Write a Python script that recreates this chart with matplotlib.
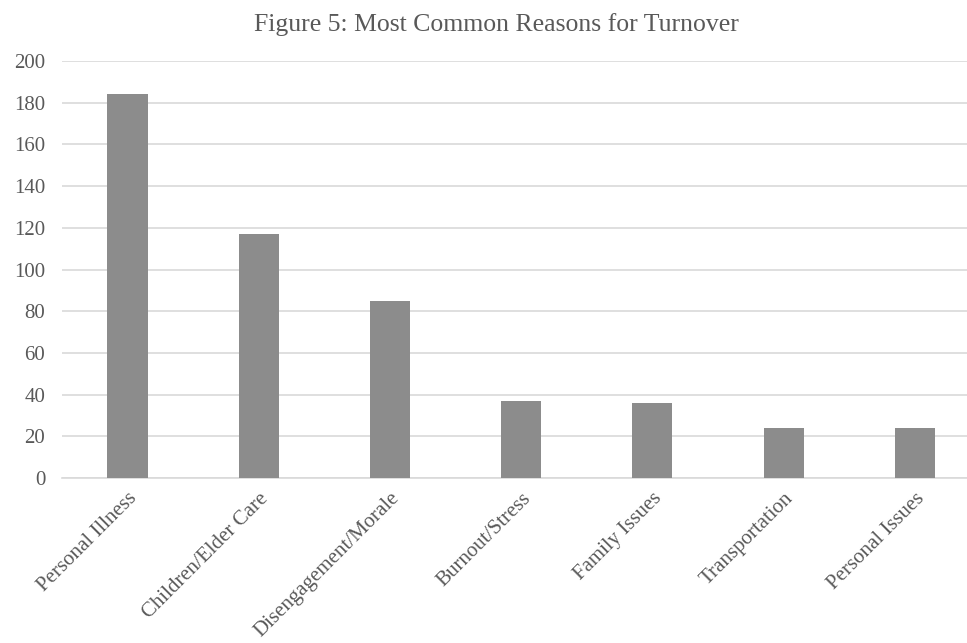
import matplotlib.pyplot as plt

# turnover reasons and counts
reasons = ['Personal Illness', 'Children/Elder Care', 'Disengagement/Morale',
           'Burnout/Stress', 'Family Issues', 'Transportation', 'Personal Issues']
counts = [184, 117, 85, 37, 36, 24, 24]
y_ticks = [0, 20, 40, 60, 80, 100, 120, 140, 160, 180, 200]

plt.rcParams['font.family'] = ['Liberation Serif', 'DejaVu Serif']
text_color = '#595959'
grid_color = '#d9d9d9'

fig = plt.figure(figsize=(9.67, 6.43), dpi=100)
ax = fig.add_axes([0.064, 0.2566, 0.950, 0.6485])

x = range(len(reasons))
ax.bar(x, counts, width=0.305, color='#8c8c8c', zorder=3)

ax.set_xlim(-0.5, 6.5)
ax.set_ylim(0, 200)
ax.set_yticks(y_ticks)
ax.set_xticks(list(x))
ax.set_xticklabels(reasons, rotation=45, ha='right', rotation_mode='anchor')

ax.grid(axis='y', color=grid_color, linewidth=1.2, zorder=0)
for side in ['top', 'right', 'left']:
    ax.spines[side].set_visible(False)
ax.spines['bottom'].set_color(grid_color)
ax.spines['bottom'].set_linewidth(1.2)
ax.tick_params(axis='both', length=0, labelsize=15, colors=text_color)
ax.tick_params(axis='y', pad=12)
ax.tick_params(axis='x', pad=8)

fig.text(0.513, 0.962, 'Figure 5: Most Common Reasons for Turnover',
         ha='center', va='center', fontsize=18.5, color=text_color)

fig.savefig('out.png', dpi=100)
